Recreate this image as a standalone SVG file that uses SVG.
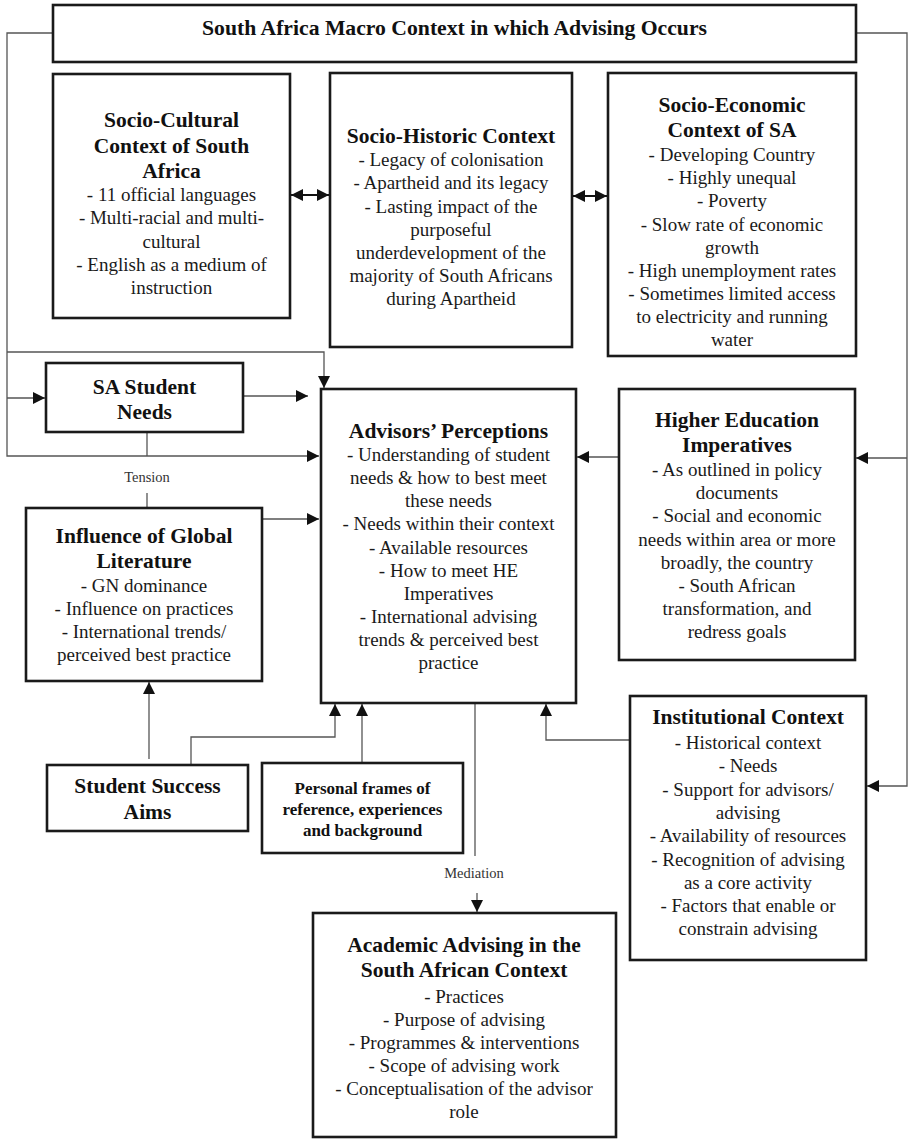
<svg xmlns="http://www.w3.org/2000/svg" width="910" height="1139" viewBox="0 0 910 1139">
<style>
.box{fill:#fff;stroke:#1a1a1a;stroke-width:2.6}
.t{font-family:"Liberation Serif","Times New Roman",serif;font-weight:bold;font-size:21.5px;fill:#111;text-anchor:middle}
.b{font-family:"Liberation Serif","Times New Roman",serif;font-size:19px;fill:#1a1a1a;text-anchor:middle}
.s{font-family:"Liberation Serif","Times New Roman",serif;font-size:14.5px;fill:#333;text-anchor:middle}
.pf{font-family:"Liberation Serif","Times New Roman",serif;font-weight:bold;font-size:17px;fill:#111;text-anchor:middle}
.c{fill:none;stroke:#555;stroke-width:1.3}
.d{fill:none;stroke:#111;stroke-width:2}
</style>
<defs>
<marker id="ah" markerUnits="userSpaceOnUse" markerWidth="12" markerHeight="12" viewBox="0 0 12 12" refX="12" refY="6" orient="auto">
<path d="M0,0 L12,6 L0,12 z" fill="#111"/>
</marker>
<marker id="ah2" markerUnits="userSpaceOnUse" markerWidth="12" markerHeight="12" viewBox="0 0 12 12" refX="12" refY="6" orient="auto-start-reverse">
<path d="M0,0 L12,6 L0,12 z" fill="#111"/>
</marker>
</defs>
<rect width="910" height="1139" fill="#fff"/>

<g id="connectors">
<polyline class="c" points="53,33 7,33 7,456 319,456" marker-end="url(#ah)"/>
<polyline class="c" points="7,352 324,352 324,388" marker-end="url(#ah)"/>
<line class="c" x1="7" y1="398" x2="45" y2="398" marker-end="url(#ah)"/>
<line class="c" x1="243" y1="396" x2="308" y2="396" marker-end="url(#ah)"/>
<line class="c" x1="147" y1="432" x2="147" y2="456"/>
<line class="c" x1="147" y1="493" x2="147" y2="508"/>
<line class="c" x1="262" y1="519" x2="319" y2="519" marker-end="url(#ah)"/>
<polyline class="c" points="856,33 907,33 907,786 867,786" marker-end="url(#ah)"/>
<line class="c" x1="907" y1="458" x2="856" y2="458" marker-end="url(#ah)"/>
<line class="c" x1="619" y1="457" x2="577" y2="457" marker-end="url(#ah)"/>
<line class="d" x1="291" y1="195" x2="329" y2="195" marker-start="url(#ah2)" marker-end="url(#ah2)"/>
<line class="d" x1="573" y1="196" x2="607" y2="196" marker-start="url(#ah2)" marker-end="url(#ah2)"/>
<line class="c" x1="149" y1="759" x2="149" y2="682" marker-end="url(#ah)"/>
<polyline class="c" points="191,765 191,737 335,737 335,704" marker-end="url(#ah)"/>
<line class="c" x1="362" y1="763" x2="362" y2="704" marker-end="url(#ah)"/>
<line class="c" x1="475" y1="703" x2="475" y2="856"/>
<line class="c" x1="477" y1="893" x2="477" y2="912" marker-end="url(#ah)"/>
<polyline class="c" points="630,740 546,740 546,704" marker-end="url(#ah)"/>
<text class="s" x="147" y="482">Tension</text>
<text class="s" x="474" y="878">Mediation</text>
</g>

<g id="macro">
<rect class="box" x="53" y="5" width="803" height="57"/>
<text class="t" x="454.5" y="35" font-size="22" textLength="505" lengthAdjust="spacingAndGlyphs">South Africa Macro Context in which Advising Occurs</text>
</g>

<g id="socio-cultural">
<rect class="box" x="53" y="74" width="237" height="244"/>
<text class="t" x="171.5" y="127">Socio-Cultural</text>
<text class="t" x="171.5" y="153">Context of South</text>
<text class="t" x="171.5" y="178">Africa</text>
<text class="b" x="171.5" y="201">- 11 official languages</text>
<text class="b" x="171.5" y="224">- Multi-racial and multi-</text>
<text class="b" x="171.5" y="248">cultural</text>
<text class="b" x="171.5" y="271">- English as a medium of</text>
<text class="b" x="171.5" y="294">instruction</text>
</g>

<g id="socio-historic">
<rect class="box" x="330" y="73" width="242" height="274"/>
<text class="t" x="451" y="143">Socio-Historic Context</text>
<text class="b" x="451" y="166">- Legacy of colonisation</text>
<text class="b" x="451" y="189">- Apartheid and its legacy</text>
<text class="b" x="451" y="213">- Lasting impact of the</text>
<text class="b" x="451" y="236">purposeful</text>
<text class="b" x="451" y="259">underdevelopment of the</text>
<text class="b" x="451" y="282">majority of South Africans</text>
<text class="b" x="451" y="305">during Apartheid</text>
</g>

<g id="socio-economic">
<rect class="box" x="608" y="73" width="248" height="283"/>
<text class="t" x="732" y="112">Socio-Economic</text>
<text class="t" x="732" y="137">Context of SA</text>
<text class="b" x="732" y="161">- Developing Country</text>
<text class="b" x="732" y="184">- Highly unequal</text>
<text class="b" x="732" y="207">- Poverty</text>
<text class="b" x="732" y="231">- Slow rate of economic</text>
<text class="b" x="732" y="254">growth</text>
<text class="b" x="732" y="277">- High unemployment rates</text>
<text class="b" x="732" y="300">- Sometimes limited access</text>
<text class="b" x="732" y="323">to electricity and running</text>
<text class="b" x="732" y="346">water</text>
</g>

<g id="student-needs">
<rect class="box" x="46" y="363" width="197" height="69"/>
<text class="t" x="144.5" y="394">SA Student</text>
<text class="t" x="144.5" y="419">Needs</text>
</g>

<g id="advisors-perceptions">
<rect class="box" x="321" y="389" width="255" height="314" stroke-width="3"/>
<text class="t" x="448.5" y="438">Advisors’ Perceptions</text>
<text class="b" x="448.5" y="461">- Understanding of student</text>
<text class="b" x="448.5" y="484">needs &amp; how to best meet</text>
<text class="b" x="448.5" y="507">these needs</text>
<text class="b" x="448.5" y="530">- Needs within their context</text>
<text class="b" x="448.5" y="554">- Available resources</text>
<text class="b" x="448.5" y="577">- How to meet HE</text>
<text class="b" x="448.5" y="600">Imperatives</text>
<text class="b" x="448.5" y="623">- International advising</text>
<text class="b" x="448.5" y="646">trends &amp; perceived best</text>
<text class="b" x="448.5" y="669">practice</text>
</g>

<g id="higher-education">
<rect class="box" x="619" y="389" width="236" height="271"/>
<text class="t" x="737" y="427">Higher Education</text>
<text class="t" x="737" y="452">Imperatives</text>
<text class="b" x="737" y="476">- As outlined in policy</text>
<text class="b" x="737" y="499">documents</text>
<text class="b" x="737" y="522">- Social and economic</text>
<text class="b" x="737" y="546">needs within area or more</text>
<text class="b" x="737" y="569">broadly, the country</text>
<text class="b" x="737" y="592">- South African</text>
<text class="b" x="737" y="615">transformation, and</text>
<text class="b" x="737" y="638">redress goals</text>
</g>

<g id="global-literature">
<rect class="box" x="26" y="508" width="236" height="173"/>
<text class="t" x="144" y="543">Influence of Global</text>
<text class="t" x="144" y="568">Literature</text>
<text class="b" x="144" y="592">- GN dominance</text>
<text class="b" x="144" y="615">- Influence on practices</text>
<text class="b" x="144" y="638">- International trends/</text>
<text class="b" x="144" y="661">perceived best practice</text>
</g>

<g id="student-success">
<rect class="box" x="47" y="765" width="201" height="66"/>
<text class="t" x="147.5" y="793">Student Success</text>
<text class="t" x="147.5" y="819">Aims</text>
</g>

<g id="personal-frames">
<rect class="box" x="262" y="763" width="201" height="90"/>
<text class="pf" x="362.5" y="794">Personal frames of</text>
<text class="pf" x="362.5" y="815">reference, experiences</text>
<text class="pf" x="362.5" y="836">and background</text>
</g>

<g id="institutional">
<rect class="box" x="630" y="696" width="236" height="264"/>
<text class="t" x="748" y="724">Institutional Context</text>
<text class="b" x="748" y="749">- Historical context</text>
<text class="b" x="748" y="772">- Needs</text>
<text class="b" x="748" y="796">- Support for advisors/</text>
<text class="b" x="748" y="819">advising</text>
<text class="b" x="748" y="842">- Availability of resources</text>
<text class="b" x="748" y="866">- Recognition of advising</text>
<text class="b" x="748" y="889">as a core activity</text>
<text class="b" x="748" y="912">- Factors that enable or</text>
<text class="b" x="748" y="935">constrain advising</text>
</g>

<g id="academic-advising">
<rect class="box" x="313" y="913" width="303" height="224"/>
<text class="t" x="464" y="952">Academic Advising in the</text>
<text class="t" x="464" y="977">South African Context</text>
<text class="b" x="464" y="1003">- Practices</text>
<text class="b" x="464" y="1026">- Purpose of advising</text>
<text class="b" x="464" y="1049">- Programmes &amp; interventions</text>
<text class="b" x="464" y="1072">- Scope of advising work</text>
<text class="b" x="464" y="1095">- Conceptualisation of the advisor</text>
<text class="b" x="464" y="1118">role</text>
</g>
</svg>
